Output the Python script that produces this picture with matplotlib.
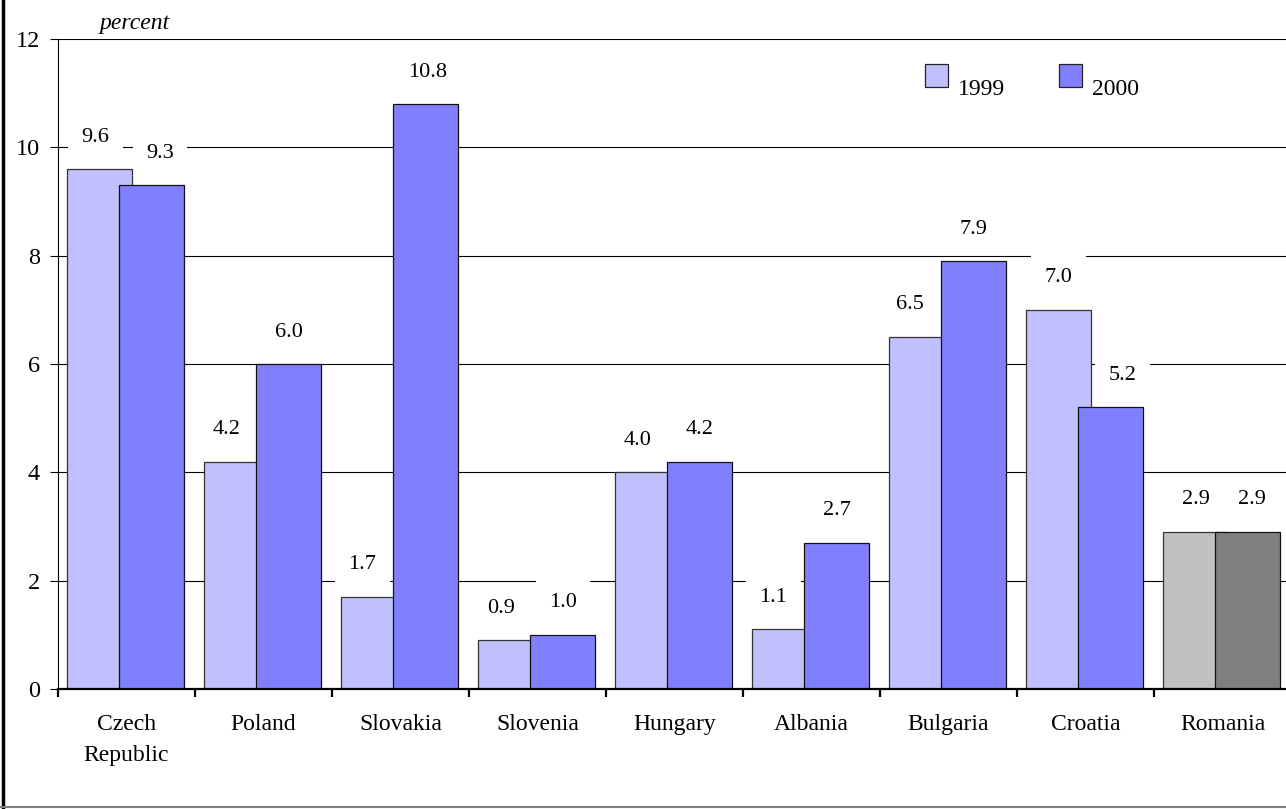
import numpy as np
import matplotlib.pyplot as plt
from matplotlib.lines import Line2D
from matplotlib.patches import Rectangle

plt.rcParams['font.family'] = ['Liberation Serif', 'DejaVu Serif']

countries = ['Czech\nRepublic', 'Poland', 'Slovakia', 'Slovenia', 'Hungary',
             'Albania', 'Bulgaria', 'Croatia', 'Romania']
values_1999 = [9.6, 4.2, 1.7, 0.9, 4.0, 1.1, 6.5, 7.0, 2.9]
values_2000 = [9.3, 6.0, 10.8, 1.0, 4.2, 2.7, 7.9, 5.2, 2.9]
years = ['1999', '2000']

colors_1999 = ['#C0C0FF'] * 8 + ['#C0C0C0']
colors_2000 = ['#8080FF'] * 8 + ['#808080']

# sideways nudges (points) for the value labels
nudge_1999 = [-3, -7, -8, -7, -7, -8, -8, 0, 0]
nudge_2000 = [6, 0, 1.5, 0, 0, 0, 0, 8.5, 3]

W, H = 1286, 809
fig = plt.figure(figsize=(W / 100, H / 100), dpi=100)
ax = fig.add_axes([58 / W, 120 / H, 1233 / W, 650 / H])

x = np.arange(len(countries))
width = 0.474
b99 = ax.bar(x + 0.303, values_1999, width, color=colors_1999,
             edgecolor='#333333', linewidth=0.9, zorder=2)
b00 = ax.bar(x + 0.685, values_2000, width, color=colors_2000,
             edgecolor='#111111', linewidth=0.9, zorder=2.1)

# value labels sit on white boxes that break the gridlines
box = dict(boxstyle='square,pad=0.6', fc='white', ec='none')
for bars, vals, nudges in [(b99, values_1999, nudge_1999),
                           (b00, values_2000, nudge_2000)]:
    for rect, v, dx in zip(bars, vals, nudges):
        ax.annotate(f'{v:.1f}', (rect.get_x() + rect.get_width() / 2, v),
                    xytext=(dx, 23), textcoords='offset points',
                    ha='center', va='center', fontsize=16, bbox=box,
                    zorder=1.5)

ax.set_xlim(0, len(countries))
ax.set_ylim(0, 12)
ax.set_yticks(np.arange(0, 13, 2))
ax.set_xticks(np.arange(len(countries) + 1))
ax.set_xticklabels([])
ax.set_xticks(x + 0.5, minor=True)
ax.set_xticklabels(countries, minor=True, fontsize=17, linespacing=1.65)
ax.tick_params(axis='x', which='major', direction='out', length=6, width=1.6)
ax.tick_params(axis='x', which='minor', length=0, pad=18)
ax.tick_params(axis='y', direction='out', length=6, width=0.8, pad=7,
               labelsize=17.5)

ax.set_axisbelow(True)
ax.yaxis.grid(True, color='black', linewidth=0.8)
for side in ('top', 'right'):
    ax.spines[side].set_visible(False)
ax.spines['left'].set_linewidth(0.8)
ax.spines['bottom'].set_linewidth(1.6)

fig.text(135 / W, 1 - 23 / H, 'percent', fontsize=17, style='italic',
         ha='center', va='center')

# legend: square swatches with the year set a little lower
for left, year, rect in zip([925, 1059], years, [b99[0], b00[0]]):
    fig.add_artist(Rectangle((left / W, 1 - 87 / H), 23 / W, 23 / H,
                             transform=fig.transFigure,
                             facecolor=rect.get_facecolor(),
                             edgecolor='#222222', linewidth=0.9))
    fig.text((left + 33) / W, 1 - 95 / H, year, fontsize=17,
             ha='left', va='baseline')

# frame edges of the chart area
fig.add_artist(Line2D([2.5 / W, 2.5 / W], [0, 1], transform=fig.transFigure,
                      color='black', linewidth=2.5))
fig.add_artist(Line2D([0, 1], [2 / H, 2 / H], transform=fig.transFigure,
                      color='#808080', linewidth=1.5))

fig.savefig('out.png', dpi=100)
